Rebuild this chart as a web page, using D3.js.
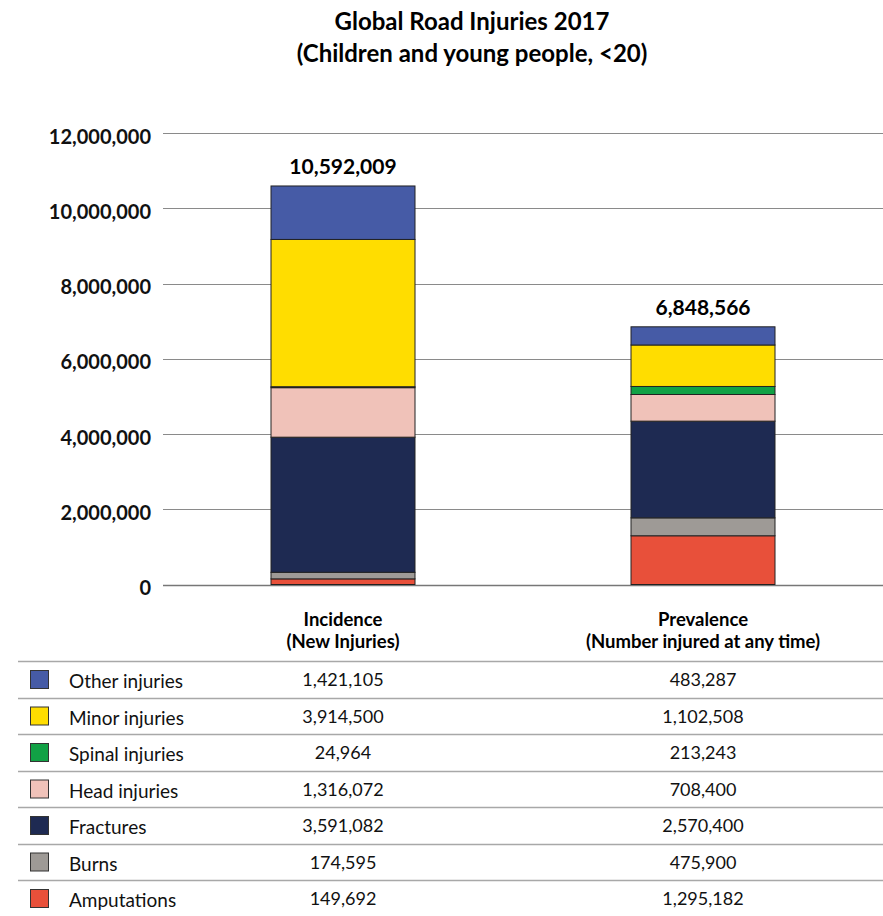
<!DOCTYPE html>
<html>
<head>
<meta charset="utf-8">
<script src="https://cdn.jsdelivr.net/npm/d3@7"></script>
<style>
  body { margin: 0; background: #fff; }
  svg { display: block; }
</style>
</head>
<body>
<script>
// categories, bottom of the stack first
const injuries = ['Amputations', 'Burns', 'Fractures', 'Head injuries', 'Spinal injuries', 'Minor injuries', 'Other injuries'];
const palette = ['#e8503a', '#9e9a96', '#1e2a52', '#f0c2b9', '#11a145', '#ffdd00', '#465ba6'];
const measures = ['Incidence', 'Prevalence'];
const measureSub = ['(New Injuries)', '(Number injured at any time)'];
const incidence = [149692, 174595, 3591082, 1316072, 24964, 3914500, 1421105];
const prevalence = [1295182, 475900, 2570400, 708400, 213243, 1102508, 483287];
const totals = [10592009, 6848566];
const yTicks = [0, 2000000, 4000000, 6000000, 8000000, 10000000, 12000000];

const width = 883;
const height = 916;
const font = "'Lato', sans-serif";
const fmt = d3.format(',');

const svg = d3.select('body').append('svg')
  .attr('width', width)
  .attr('height', height);

svg.append('text')
  .attr('x', 472)
  .attr('y', 30)
  .attr('text-anchor', 'middle')
  .style('font', `bold 24px ${font}`)
  .text('Global Road Injuries 2017');

svg.append('text')
  .attr('x', 472)
  .attr('y', 62)
  .attr('text-anchor', 'middle')
  .style('font', `bold 24px ${font}`)
  .text('(Children and young people, <20)');

const x = d3.scaleBand()
  .domain(measures)
  .range([163, 883])
  .paddingInner(0.6)
  .paddingOuter(0.3);

const y = d3.scaleLinear()
  .domain([0, 12000000])
  .range([584.5, 133]);

// gridlines + tick labels
const yAxis = svg.append('g')
  .call(d3.axisLeft(y).tickValues(yTicks).tickFormat(fmt).tickSize(0).tickPadding(12))
  .attr('transform', 'translate(163,0)');
yAxis.select('.domain').remove();
yAxis.selectAll('text')
  .style('font', `bold 20px ${font}`)
  .attr('fill', '#111')
  .attr('dy', '0.5em');

svg.append('g')
  .selectAll('line')
  .data(yTicks)
  .join('line')
  .attr('x1', 163)
  .attr('x2', width)
  .attr('y1', (d) => Math.round(y(d)) + 0.5)
  .attr('y2', (d) => Math.round(y(d)) + 0.5)
  .attr('stroke', (d) => d === 0 ? '#777' : '#8a8a8a')
  .attr('stroke-width', (d) => d === 0 ? 1.5 : 1);

const rows = measures.map((m, i) => {
  const vals = i === 0 ? incidence : prevalence;
  const row = { measure: m };
  injuries.forEach((k, j) => { row[k] = vals[j]; });
  return row;
});

const stack = d3.stack().keys(injuries);
const series = stack(rows);
const color = d3.scaleOrdinal().domain(injuries).range(palette);

svg.append('g')
  .selectAll('g')
  .data(series)
  .join('g')
  .attr('fill', (d) => color(d.key))
  .selectAll('rect')
  .data((d) => d)
  .join('rect')
  .attr('x', (d) => x(d.data.measure))
  .attr('width', x.bandwidth())
  .attr('y', (d) => y(d[1]))
  .attr('height', (d) => y(d[0]) - y(d[1]))
  .attr('stroke', '#222')
  .attr('stroke-width', 1);

// totals above bars
svg.append('g')
  .selectAll('text')
  .data(measures)
  .join('text')
  .attr('x', (d) => x(d) + x.bandwidth() / 2)
  .attr('y', (d, i) => y(d3.sum(i === 0 ? incidence : prevalence)) - 12)
  .attr('text-anchor', 'middle')
  .style('font', `bold 21px ${font}`)
  .text((d, i) => fmt(totals[i]));

// category labels
const cat = svg.append('g')
  .selectAll('text')
  .data(measures)
  .join('text')
  .attr('text-anchor', 'middle')
  .style('font', `bold 18.5px ${font}`);
cat.append('tspan')
  .attr('x', (d) => x(d) + x.bandwidth() / 2)
  .attr('y', 626)
  .text((d) => d);
cat.append('tspan')
  .attr('x', (d) => x(d) + x.bandwidth() / 2)
  .attr('y', 648)
  .text((d, i) => measureSub[i]);

// table legend
const tableOrder = injuries.slice().reverse();
const rowY = d3.scaleBand()
  .domain(tableOrder)
  .range([661, 916.5]);

svg.append('g')
  .selectAll('line')
  .data(tableOrder)
  .join('line')
  .attr('x1', 18)
  .attr('x2', width)
  .attr('y1', (d) => Math.round(rowY(d)) + 0.5)
  .attr('y2', (d) => Math.round(rowY(d)) + 0.5)
  .attr('stroke', '#a8a8a8')
  .attr('stroke-width', 1.5);

const tr = svg.append('g')
  .selectAll('g')
  .data(tableOrder)
  .join('g')
  .attr('transform', (d) => `translate(0,${rowY(d)})`);

tr.append('rect')
  .attr('x', 30.5)
  .attr('y', 9.5)
  .attr('width', 18)
  .attr('height', 18)
  .attr('fill', (d) => color(d))
  .attr('stroke', '#333')
  .attr('stroke-width', 1);

tr.append('text')
  .attr('x', 69)
  .attr('y', 27)
  .style('font', `19px ${font}`)
  .attr('fill', '#111')
  .text((d) => d);

tr.append('text')
  .attr('x', x(measures[0]) + x.bandwidth() / 2)
  .attr('y', 25)
  .attr('text-anchor', 'middle')
  .style('font', `18px ${font}`)
  .attr('fill', '#111')
  .text((d) => fmt(incidence[injuries.indexOf(d)]));

tr.append('text')
  .attr('x', x(measures[1]) + x.bandwidth() / 2)
  .attr('y', 25)
  .attr('text-anchor', 'middle')
  .style('font', `18px ${font}`)
  .attr('fill', '#111')
  .text((d) => fmt(prevalence[injuries.indexOf(d)]));
</script>
</body>
</html>
